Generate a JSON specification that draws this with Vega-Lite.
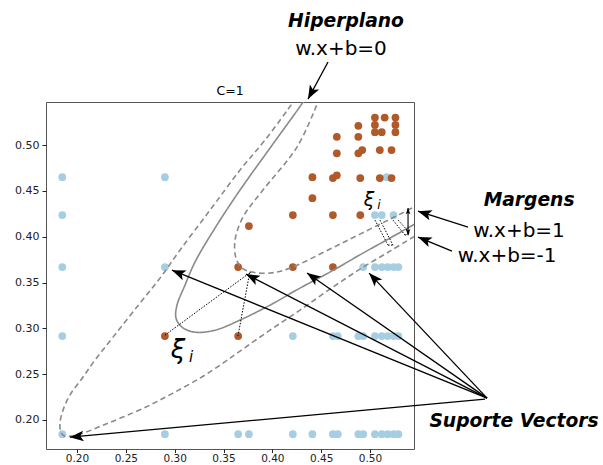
{
  "$schema": "https://vega.github.io/schema/vega-lite/v6.json",
  "width": 368,
  "height": 347,
  "autosize": {"type": "none"},
  "padding": {"left": 46, "top": 102, "right": 189, "bottom": 16},
  "background": "white",
  "config": {
    "view": {"stroke": "#555", "strokeWidth": 1},
    "axis": {"grid": false, "domain": false, "labelFont": "DejaVu Sans", "labelFontSize": 11, "labelColor": "#222", "tickColor": "#222", "tickSize": 4, "title": null, "labelPadding": 3}
  },
  "datasets": {
    "pts": [
      {"x":0.185,"y":0.465,"c":"a"},{"x":0.185,"y":0.4236,"c":"a"},{"x":0.185,"y":0.3668,"c":"a"},{"x":0.185,"y":0.2915,"c":"a"},{"x":0.185,"y":0.1845,"c":"a"},
      {"x":0.290,"y":0.465,"c":"a"},{"x":0.290,"y":0.3668,"c":"a"},{"x":0.290,"y":0.1845,"c":"a"},
      {"x":0.365,"y":0.1845,"c":"a"},{"x":0.376,"y":0.1845,"c":"a"},{"x":0.421,"y":0.1845,"c":"a"},{"x":0.441,"y":0.1845,"c":"a"},{"x":0.462,"y":0.1845,"c":"a"},{"x":0.467,"y":0.1845,"c":"a"},{"x":0.488,"y":0.1845,"c":"a"},{"x":0.493,"y":0.1845,"c":"a"},{"x":0.505,"y":0.1845,"c":"a"},{"x":0.512,"y":0.1845,"c":"a"},{"x":0.518,"y":0.1845,"c":"a"},{"x":0.524,"y":0.1845,"c":"a"},{"x":0.529,"y":0.1845,"c":"a"},
      {"x":0.421,"y":0.2915,"c":"a"},{"x":0.462,"y":0.2915,"c":"a"},{"x":0.467,"y":0.2915,"c":"a"},{"x":0.488,"y":0.2915,"c":"a"},{"x":0.493,"y":0.2915,"c":"a"},{"x":0.505,"y":0.2915,"c":"a"},{"x":0.512,"y":0.2915,"c":"a"},{"x":0.518,"y":0.2915,"c":"a"},{"x":0.524,"y":0.2915,"c":"a"},{"x":0.529,"y":0.2915,"c":"a"},
      {"x":0.493,"y":0.3668,"c":"a"},{"x":0.505,"y":0.3668,"c":"a"},{"x":0.512,"y":0.3668,"c":"a"},{"x":0.518,"y":0.3668,"c":"a"},{"x":0.524,"y":0.3668,"c":"a"},{"x":0.529,"y":0.3668,"c":"a"},
      {"x":0.505,"y":0.4236,"c":"a"},{"x":0.512,"y":0.4236,"c":"a"},{"x":0.524,"y":0.4236,"c":"a"},
      {"x":0.517,"y":0.465,"c":"a"},
      {"x":0.290,"y":0.2915,"c":"b"},{"x":0.365,"y":0.2915,"c":"b"},
      {"x":0.365,"y":0.3668,"c":"b"},{"x":0.421,"y":0.3668,"c":"b"},{"x":0.462,"y":0.3668,"c":"b"},
      {"x":0.376,"y":0.4116,"c":"b"},
      {"x":0.421,"y":0.4236,"c":"b"},{"x":0.462,"y":0.4236,"c":"b"},{"x":0.490,"y":0.4236,"c":"b"},
      {"x":0.441,"y":0.442,"c":"b"},
      {"x":0.441,"y":0.465,"c":"b"},{"x":0.462,"y":0.464,"c":"b"},{"x":0.466,"y":0.467,"c":"b"},{"x":0.490,"y":0.464,"c":"b"},{"x":0.510,"y":0.464,"c":"b"},{"x":0.522,"y":0.464,"c":"b"},
      {"x":0.466,"y":0.491,"c":"b"},{"x":0.488,"y":0.491,"c":"b"},{"x":0.492,"y":0.4945,"c":"b"},{"x":0.510,"y":0.4945,"c":"b"},{"x":0.522,"y":0.4945,"c":"b"},
      {"x":0.466,"y":0.509,"c":"b"},{"x":0.488,"y":0.509,"c":"b"},{"x":0.488,"y":0.521,"c":"b"},
      {"x":0.505,"y":0.514,"c":"b"},{"x":0.512,"y":0.514,"c":"b"},{"x":0.526,"y":0.514,"c":"b"},
      {"x":0.505,"y":0.522,"c":"b"},{"x":0.526,"y":0.522,"c":"b"},
      {"x":0.505,"y":0.530,"c":"b"},{"x":0.515,"y":0.530,"c":"b"},{"x":0.526,"y":0.530,"c":"b"}
    ],
    "curves": [
      {"c":"S","k":"solid","o":0,"x":0.4345,"y":0.5524},{"c":"S","k":"solid","o":1,"x":0.4314,"y":0.5469},{"c":"S","k":"solid","o":2,"x":0.3976,"y":0.4967},{"c":"S","k":"solid","o":3,"x":0.3669,"y":0.4509},{"c":"S","k":"solid","o":4,"x":0.3413,"y":0.4094},{"c":"S","k":"solid","o":5,"x":0.3208,"y":0.3723},{"c":"S","k":"solid","o":6,"x":0.3106,"y":0.3472},{"c":"S","k":"solid","o":7,"x":0.3024,"y":0.3253},{"c":"S","k":"solid","o":8,"x":0.3014,"y":0.3111},{"c":"S","k":"solid","o":9,"x":0.3075,"y":0.3013},{"c":"S","k":"solid","o":10,"x":0.3208,"y":0.2958},{"c":"S","k":"solid","o":11,"x":0.3413,"y":0.2980},{"c":"S","k":"solid","o":12,"x":0.3669,"y":0.3090},{"c":"S","k":"solid","o":13,"x":0.3976,"y":0.3253},{"c":"S","k":"solid","o":14,"x":0.4283,"y":0.3439},{"c":"S","k":"solid","o":15,"x":0.4590,"y":0.3614},{"c":"S","k":"solid","o":16,"x":0.4928,"y":0.3821},{"c":"S","k":"solid","o":17,"x":0.5205,"y":0.3985},{"c":"S","k":"solid","o":18,"x":0.5491,"y":0.4159},
      {"c":"D1","k":"dashed","o":0,"x":0.4242,"y":0.5524},{"c":"D1","k":"dashed","o":1,"x":0.4212,"y":0.5469},{"c":"D1","k":"dashed","o":2,"x":0.3925,"y":0.5055},{"c":"D1","k":"dashed","o":3,"x":0.3669,"y":0.4727},{"c":"D1","k":"dashed","o":4,"x":0.3362,"y":0.4290},{"c":"D1","k":"dashed","o":5,"x":0.3055,"y":0.3854},{"c":"D1","k":"dashed","o":6,"x":0.2850,"y":0.3548},{"c":"D1","k":"dashed","o":7,"x":0.2645,"y":0.3275},{"c":"D1","k":"dashed","o":8,"x":0.2369,"y":0.2904},{"c":"D1","k":"dashed","o":9,"x":0.2184,"y":0.2653},{"c":"D1","k":"dashed","o":10,"x":0.2061,"y":0.2467},{"c":"D1","k":"dashed","o":11,"x":0.1928,"y":0.2271},{"c":"D1","k":"dashed","o":12,"x":0.1857,"y":0.2107},{"c":"D1","k":"dashed","o":13,"x":0.1826,"y":0.1965},{"c":"D1","k":"dashed","o":14,"x":0.1836,"y":0.1867},{"c":"D1","k":"dashed","o":15,"x":0.1877,"y":0.1823},{"c":"D1","k":"dashed","o":16,"x":0.2061,"y":0.1856},{"c":"D1","k":"dashed","o":17,"x":0.2266,"y":0.1943},{"c":"D1","k":"dashed","o":18,"x":0.2471,"y":0.2031},{"c":"D1","k":"dashed","o":19,"x":0.2747,"y":0.2162},{"c":"D1","k":"dashed","o":20,"x":0.2983,"y":0.2293},{"c":"D1","k":"dashed","o":21,"x":0.3259,"y":0.2456},{"c":"D1","k":"dashed","o":22,"x":0.3495,"y":0.2620},{"c":"D1","k":"dashed","o":23,"x":0.3669,"y":0.2751},{"c":"D1","k":"dashed","o":24,"x":0.3976,"y":0.2980},{"c":"D1","k":"dashed","o":25,"x":0.4283,"y":0.3199},{"c":"D1","k":"dashed","o":26,"x":0.4590,"y":0.3428},{"c":"D1","k":"dashed","o":27,"x":0.4897,"y":0.3646},{"c":"D1","k":"dashed","o":28,"x":0.5205,"y":0.3843},{"c":"D1","k":"dashed","o":29,"x":0.5491,"y":0.4028},
      {"c":"D2","k":"dashed","o":0,"x":0.4487,"y":0.5524},{"c":"D2","k":"dashed","o":1,"x":0.4467,"y":0.5469},{"c":"D2","k":"dashed","o":2,"x":0.4252,"y":0.4978},{"c":"D2","k":"dashed","o":3,"x":0.3904,"y":0.4509},{"c":"D2","k":"dashed","o":4,"x":0.3700,"y":0.4214},{"c":"D2","k":"dashed","o":5,"x":0.3618,"y":0.3963},{"c":"D2","k":"dashed","o":6,"x":0.3628,"y":0.3766},{"c":"D2","k":"dashed","o":7,"x":0.3689,"y":0.3657},{"c":"D2","k":"dashed","o":8,"x":0.3792,"y":0.3614},{"c":"D2","k":"dashed","o":9,"x":0.3976,"y":0.3603},{"c":"D2","k":"dashed","o":10,"x":0.4181,"y":0.3657},{"c":"D2","k":"dashed","o":11,"x":0.4590,"y":0.3865},{"c":"D2","k":"dashed","o":12,"x":0.4897,"y":0.4028},{"c":"D2","k":"dashed","o":13,"x":0.5205,"y":0.4192},{"c":"D2","k":"dashed","o":14,"x":0.5491,"y":0.4345}
    ],
    "arrows": [
      {"x":0.4570,"y":0.5906,"x2":0.4365,"y2":0.5502},
      {"x":0.6003,"y":0.4105,"x2":0.5491,"y2":0.4279},
      {"x":0.5839,"y":0.3843,"x2":0.5491,"y2":0.3996},
      {"x":0.6177,"y":0.2227,"x2":0.1928,"y2":0.1812},
      {"x":0.6198,"y":0.2238,"x2":0.2973,"y2":0.3635},
      {"x":0.6198,"y":0.2238,"x2":0.3730,"y2":0.3592},
      {"x":0.6198,"y":0.2238,"x2":0.4355,"y2":0.3603},
      {"x":0.6198,"y":0.2238,"x2":0.4990,"y2":0.3603}
    ],
    "smallarrows": [
      {"x":0.5389,"y":0.4170,"x2":0.5389,"y2":0.4312},
      {"x":0.5389,"y":0.4170,"x2":0.5389,"y2":0.4017}
    ],
    "dotted": [
      {"x":0.2901,"y":0.2926,"x2":0.3792,"y2":0.3624},
      {"x":0.3648,"y":0.2915,"x2":0.3771,"y2":0.3624},
      {"x":0.5051,"y":0.4181,"x2":0.5184,"y2":0.3908},
      {"x":0.5102,"y":0.4181,"x2":0.5235,"y2":0.3908},
      {"x":0.5184,"y":0.3908,"x2":0.5235,"y2":0.3908},
      {"x":0.5235,"y":0.4181,"x2":0.5358,"y2":0.4017},
      {"x":0.5287,"y":0.4181,"x2":0.5409,"y2":0.4039},
      {"x":0.5358,"y":0.4017,"x2":0.5409,"y2":0.4039}
    ],
    "boldlabels": [
      {"x":0.4754,"y":0.6288,"t":"Hiperplano"},
      {"x":0.6628,"y":0.4334,"t":"Margens"},
      {"x":0.6474,"y":0.1921,"t":"Suporte Vectors"}
    ],
    "eqlabels": [
      {"x":0.4703,"y":0.5983,"t":"w.x+b=0"},
      {"x":0.6525,"y":0.3996,"t":"w.x+b=1"},
      {"x":0.6403,"y":0.3723,"t":"w.x+b=-1"}
    ],
    "title": [{"x":0.3567,"y":0.5546,"t":"C=1"}],
    "xibig": [{"x":0.3034,"y":0.2675,"t":"ξ"}],
    "ibig": [{"x":0.3168,"y":0.2631,"t":"i"}],
    "xismall": [{"x":0.4990,"y":0.4334,"t":"ξ"}],
    "ismall": [{"x":0.5092,"y":0.4301,"t":"i"}]
  },
  "encoding": {
    "x": {"field": "x", "type": "quantitative", "scale": {"domain": [0.1683, 0.545], "nice": false, "zero": false}, "axis": {"values": [0.2,0.25,0.3,0.35,0.4,0.45,0.5], "format": ".2f", "labelPadding": 1, "tickSize": 3.5, "labelFontSize": 10.5}},
    "y": {"field": "y", "type": "quantitative", "scale": {"domain": [0.1683, 0.547], "nice": false, "zero": false}, "axis": {"values": [0.2,0.25,0.3,0.35,0.4,0.45,0.5], "format": ".2f"}}
  },
  "layer": [
    {
      "data": {"name": "pts"},
      "mark": {"type": "point", "filled": true, "size": 60, "opacity": 1, "clip": true},
      "encoding": {"color": {"field": "c", "type": "nominal", "scale": {"domain": ["a","b"], "range": ["#a6cee3","#b15928"]}, "legend": null}}
    },
    {
      "data": {"name": "curves"},
      "mark": {"type": "line", "clip": true, "color": "#8a8a8a", "strokeWidth": 1.6, "interpolate": "catmull-rom"},
      "encoding": {
        "detail": {"field": "c", "type": "nominal"},
        "order": {"field": "o", "type": "quantitative"},
        "strokeDash": {"field": "k", "type": "nominal", "scale": {"domain": ["solid","dashed"], "range": [[1,0],[5.5,3.5]]}, "legend": null}
      }
    },
    {
      "data": {"name": "dotted"},
      "mark": {"type": "rule", "color": "black", "strokeWidth": 1, "strokeDash": [1.5,1.5], "clip": false},
      "encoding": {"x2": {"field": "x2"}, "y2": {"field": "y2"}}
    },
    {
      "data": {"name": "arrows"},
      "mark": {"type": "rule", "color": "black", "strokeWidth": 1.3, "clip": false},
      "encoding": {"x2": {"field": "x2"}, "y2": {"field": "y2"}}
    },
    {
      "data": {"name": "arrows"},
      "transform": [{"calculate": "atan2((datum.x2-datum.x)*976.7, (datum.y2-datum.y)*916)*180/PI", "as": "ang"}],
      "mark": {"type": "point", "filled": true, "color": "black", "opacity": 1, "size": 110, "shape": "M0,0L-1,2.6L0,2L1,2.6Z", "clip": false},
      "encoding": {"x": {"field": "x2", "type": "quantitative"}, "y": {"field": "y2", "type": "quantitative"}, "angle": {"field": "ang", "type": "quantitative", "scale": null}}
    },
    {
      "data": {"name": "smallarrows"},
      "mark": {"type": "rule", "color": "black", "strokeWidth": 1.1, "clip": false},
      "encoding": {"x2": {"field": "x2"}, "y2": {"field": "y2"}}
    },
    {
      "data": {"name": "smallarrows"},
      "transform": [{"calculate": "atan2((datum.x2-datum.x)*976.7, (datum.y2-datum.y)*916)*180/PI", "as": "ang"}],
      "mark": {"type": "point", "filled": true, "color": "black", "opacity": 1, "size": 22, "shape": "M0,0L-1,2.6L0,2L1,2.6Z", "clip": false},
      "encoding": {"x": {"field": "x2", "type": "quantitative"}, "y": {"field": "y2", "type": "quantitative"}, "angle": {"field": "ang", "type": "quantitative", "scale": null}}
    },
    {
      "data": {"name": "boldlabels"},
      "mark": {"type": "text", "font": "DejaVu Sans", "fontSize": 18.7, "fontWeight": "bold", "fontStyle": "italic", "align": "center", "baseline": "alphabetic", "color": "black", "clip": false},
      "encoding": {"text": {"field": "t"}}
    },
    {
      "data": {"name": "eqlabels"},
      "mark": {"type": "text", "font": "DejaVu Sans", "fontSize": 20, "align": "center", "baseline": "alphabetic", "color": "black", "clip": false},
      "encoding": {"text": {"field": "t"}}
    },
    {
      "data": {"name": "title"},
      "mark": {"type": "text", "font": "DejaVu Sans", "fontSize": 12.5, "align": "center", "baseline": "alphabetic", "color": "black", "clip": false},
      "encoding": {"text": {"field": "t"}}
    },
    {
      "data": {"name": "xibig"},
      "mark": {"type": "text", "font": "DejaVu Sans", "fontSize": 26, "fontStyle": "italic", "align": "center", "baseline": "alphabetic", "color": "black", "clip": false},
      "encoding": {"text": {"field": "t"}}
    },
    {
      "data": {"name": "ibig"},
      "mark": {"type": "text", "font": "DejaVu Sans", "fontSize": 15, "fontStyle": "italic", "align": "center", "baseline": "alphabetic", "color": "black", "clip": false},
      "encoding": {"text": {"field": "t"}}
    },
    {
      "data": {"name": "xismall"},
      "mark": {"type": "text", "font": "DejaVu Sans", "fontSize": 19, "fontStyle": "italic", "align": "center", "baseline": "alphabetic", "color": "black", "clip": false},
      "encoding": {"text": {"field": "t"}}
    },
    {
      "data": {"name": "ismall"},
      "mark": {"type": "text", "font": "DejaVu Sans", "fontSize": 12, "fontStyle": "italic", "align": "center", "baseline": "alphabetic", "color": "black", "clip": false},
      "encoding": {"text": {"field": "t"}}
    }
  ]
}
